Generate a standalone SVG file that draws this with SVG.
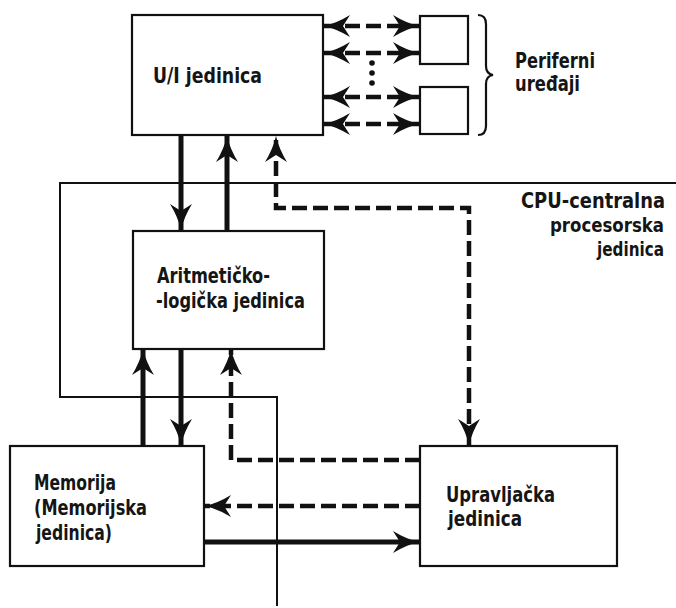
<svg xmlns="http://www.w3.org/2000/svg" width="676" height="608" viewBox="0 0 676 608">
  <defs>
    <style>
      .box { fill: #ffffff; stroke: #111111; stroke-width: 2.2; }
      .lbl { font-family: "DejaVu Sans Condensed", "Liberation Sans Narrow", "DejaVu Sans", sans-serif; font-size: 21px; font-weight: bold; fill: #151515; }
      .sm { font-size: 19px; }
      .wire { fill: none; stroke: #111111; stroke-width: 5; }
      .dash { fill: none; stroke: #111111; stroke-width: 4.5; stroke-dasharray: 15 6; }
      .frame { fill: none; stroke: #111111; stroke-width: 2; }
      .brace { fill: none; stroke: #111111; stroke-width: 2.2; }
    </style>
    <!-- swept barbed arrowhead, drawn in user units so line width does not scale it -->
    <marker id="head" viewBox="-28 -13 30 26" refX="0" refY="0" markerWidth="30" markerHeight="26" markerUnits="userSpaceOnUse" orient="auto-start-reverse">
      <path d="M0,0 Q-13,-3 -26,-11 L-19,0 L-26,11 Q-13,3 0,0 Z" fill="#111111"/>
    </marker>
  </defs>

  <rect width="676" height="608" fill="#ffffff"/>

  <!-- CPU boundary -->
  <g id="cpu-boundary">
    <polyline class="frame" points="676,183 60,183 60,397 277,397 277,606"/>
    <text class="lbl" x="521" y="208" textLength="144" lengthAdjust="spacingAndGlyphs">CPU-centralna</text>
    <text class="lbl sm" x="550" y="232" textLength="114" lengthAdjust="spacingAndGlyphs">procesorska</text>
    <text class="lbl sm" x="597" y="256" textLength="67" lengthAdjust="spacingAndGlyphs">jedinica</text>
  </g>

  <!-- connectors -->
  <g id="connectors">
    <!-- I/O unit to peripheral devices -->
    <line class="dash" x1="324" y1="26" x2="419" y2="26" stroke-dasharray="13 5" marker-start="url(#head)" marker-end="url(#head)"/>
    <line class="dash" x1="324" y1="53" x2="419" y2="53" stroke-dasharray="13 5" marker-start="url(#head)" marker-end="url(#head)"/>
    <line class="dash" x1="324" y1="97" x2="419" y2="97" stroke-dasharray="13 5" marker-start="url(#head)" marker-end="url(#head)"/>
    <line class="dash" x1="324" y1="124" x2="419" y2="124" stroke-dasharray="13 5" marker-start="url(#head)" marker-end="url(#head)"/>
    <circle cx="372" cy="63" r="2.8" fill="#111111"/>
    <circle cx="372" cy="73" r="2.8" fill="#111111"/>
    <circle cx="372" cy="83" r="2.8" fill="#111111"/>

    <!-- I/O unit and ALU -->
    <line class="wire" x1="181" y1="135" x2="181" y2="230" marker-end="url(#head)"/>
    <line class="wire" x1="227" y1="231" x2="227" y2="136" marker-end="url(#head)"/>
    <!-- control unit to I/O unit -->
    <polyline class="dash" points="469,445 469,208 276,208 276,136" marker-start="url(#head)" marker-end="url(#head)"/>

    <!-- ALU and memory -->
    <line class="wire" x1="143" y1="446" x2="143" y2="349" marker-end="url(#head)"/>
    <line class="wire" x1="181" y1="348" x2="181" y2="445" marker-end="url(#head)"/>
    <!-- control unit to ALU -->
    <polyline class="dash" points="420,460 231,460 231,349" marker-end="url(#head)"/>

    <!-- control unit and memory -->
    <line class="dash" x1="420" y1="506" x2="205" y2="506" marker-end="url(#head)"/>
    <line class="wire" x1="204" y1="542" x2="419" y2="542" marker-end="url(#head)"/>
  </g>

  <!-- I/O unit -->
  <g id="io-unit">
    <rect class="box" x="132" y="15" width="191" height="120"/>
    <text class="lbl" x="153" y="83" textLength="109" lengthAdjust="spacingAndGlyphs">U/I jedinica</text>
  </g>

  <!-- peripheral devices -->
  <g id="peripheral-1">
    <rect class="box" x="420" y="16" width="48" height="48"/>
  </g>
  <g id="peripheral-2">
    <rect class="box" x="420" y="87" width="48" height="47"/>
  </g>
  <g id="peripheral-label">
    <path class="brace" d="M478,15 Q486,15 486,24 L486,66 Q486,74 493,75 Q486,76 486,84 L486,126 Q486,135 478,135"/>
    <text class="lbl" x="515" y="68" textLength="80" lengthAdjust="spacingAndGlyphs">Periferni</text>
    <text class="lbl" x="515" y="91" textLength="65" lengthAdjust="spacingAndGlyphs">uređaji</text>
  </g>

  <!-- arithmetic-logic unit -->
  <g id="alu">
    <rect class="box" x="133" y="231" width="191" height="118"/>
    <text class="lbl" x="157" y="283" textLength="113" lengthAdjust="spacingAndGlyphs">Aritmetičko-</text>
    <text class="lbl" x="156" y="308" textLength="149" lengthAdjust="spacingAndGlyphs">-logička jedinica</text>
  </g>

  <!-- memory unit -->
  <g id="memory">
    <rect class="box" x="10" y="446" width="194" height="120"/>
    <text class="lbl" x="34" y="490" textLength="82" lengthAdjust="spacingAndGlyphs">Memorija</text>
    <text class="lbl" x="34" y="515" textLength="113" lengthAdjust="spacingAndGlyphs">(Memorijska</text>
    <text class="lbl" x="36" y="540" textLength="76" lengthAdjust="spacingAndGlyphs">jedinica)</text>
  </g>

  <!-- control unit -->
  <g id="control-unit">
    <rect class="box" x="420" y="446" width="197" height="120"/>
    <text class="lbl" x="446" y="502" textLength="109" lengthAdjust="spacingAndGlyphs">Upravljačka</text>
    <text class="lbl" x="448" y="526" textLength="74" lengthAdjust="spacingAndGlyphs">jedinica</text>
  </g>
</svg>
